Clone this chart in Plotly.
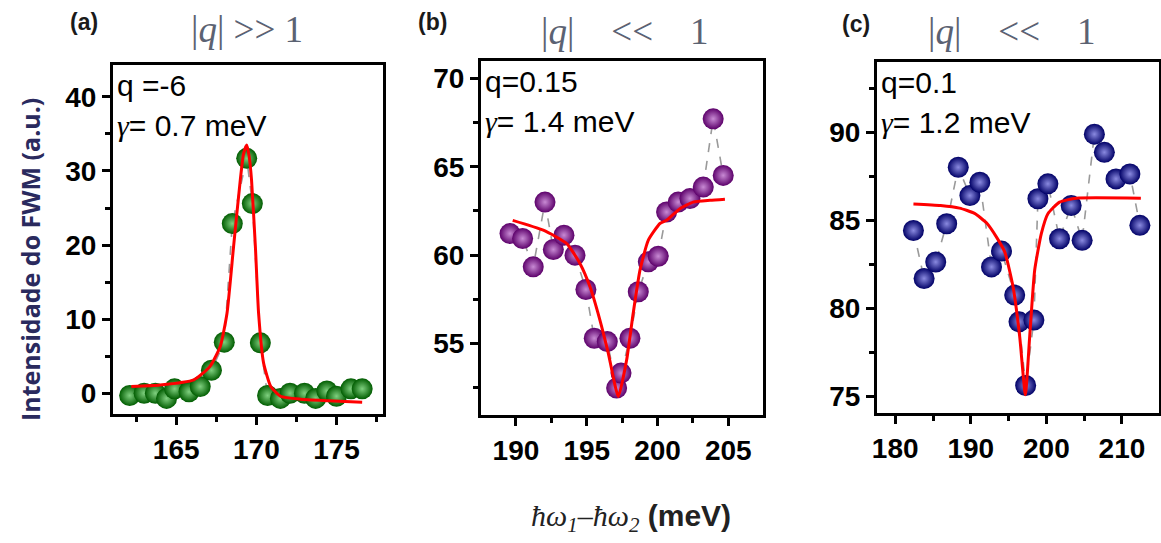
import plotly.graph_objects as go

W, H = 1161, 543

# ---------- data ----------
# panel (a)  |q| >> 1
a_x = [162.1, 163.0, 163.7, 164.4, 164.9, 165.8, 166.5, 167.2, 168.0, 168.5, 169.4,
       169.75, 170.25, 170.7, 171.5, 172.1, 173.0, 173.7, 174.4, 175.0, 175.9, 176.6]
a_y = [-0.3, 0.0, 0.0, -0.7, 0.6, 0.2, 0.9, 3.1, 6.9, 22.9, 31.7,
       25.6, 6.8, -0.3, -0.7, 0.0, 0.0, -0.7, 0.3, -0.4, 0.6, 0.6]
afit_x = [162.2, 164.0, 166.1, 167.1, 167.75, 168.17, 168.58, 169.0, 169.2, 169.4,
          169.55, 169.7, 169.94, 170.14, 170.45, 170.9, 171.5, 172.75, 174.5, 176.6]
afit_y = [0.9, 1.1, 1.8, 3.6, 6.3, 10.8, 19.8, 28.8, 32.3, 33.5,
          32.0, 28.8, 19.8, 10.8, 4.1, 0.9, -0.4, -0.8, -1.0, -1.2]

# panel (b)  |q| << 1
b_x = [189.58, 190.47, 191.22, 192.05, 192.64, 193.39, 194.17, 194.94, 195.53, 196.45, 197.11,
       197.42, 198.05, 198.64, 199.35, 200.05, 200.64, 201.46, 202.29, 203.23, 203.93, 204.64]
b_y = [61.22, 60.94, 59.34, 63.0, 60.32, 61.13, 60.0, 58.06, 55.3, 55.11, 52.48,
       53.33, 55.3, 57.93, 59.62, 59.94, 62.44, 63.0, 63.2, 63.85, 67.71, 64.51]
bfit_x = [189.77, 191.93, 193.58, 194.52, 195.23, 195.93, 196.52, 197.23, 197.82,
          198.28, 198.76, 199.35, 200.17, 200.64, 201.58, 202.52, 203.7, 204.76]
bfit_y = [61.97, 61.41, 60.66, 59.53, 58.21, 56.33, 54.46, 52.0, 54.08,
          56.71, 59.15, 60.85, 61.79, 61.97, 62.63, 63.0, 63.1, 63.16]

# panel (c)  |q| << 1
c_x = [182.41, 183.82, 185.36, 186.81, 188.34, 189.88, 191.2, 192.74, 194.06, 195.81, 196.38, 197.26,
       198.35, 198.88, 200.2, 201.74, 203.28, 204.73, 206.35, 207.67, 209.21, 211.05, 212.37]
c_y = [84.43, 81.7, 82.64, 84.81, 88.02, 86.41, 87.17, 82.36, 83.26, 80.76, 79.24, 75.62,
       79.34, 86.23, 87.08, 83.96, 85.85, 83.87, 89.9, 88.87, 87.36, 87.64, 84.72]
cfit_x = [182.41, 186.0, 188.5, 190.5, 192.1, 193.4, 194.5, 195.59, 196.47, 197.22, 197.79,
          198.45, 199.33, 200.2, 201.74, 203.94, 212.5]
cfit_y = [85.94, 85.85, 85.7, 85.4, 84.85, 84.05, 83.2, 81.23, 78.4, 75.1, 78.4,
          82.17, 84.25, 85.38, 86.04, 86.26, 86.26]

# ---------- styling ----------
def px(x):
    return x / W

def py(y):
    return 1 - y / H

panels = [
    dict(x=a_x, y=a_y, fx=afit_x, fy=afit_y, edge="#005c00", hi="#7fd07f",
         dom_x=[px(113), px(383)], dom_y=[py(414), py(65)],
         xr=[161.06, 177.9], yr=[-2.8, 44.3], xd=5, xt0=165, xm=2.5, yd=10, ym=5,
         q="q =-6", g="0.7"),
    dict(x=b_x, y=b_y, fx=bfit_x, fy=bfit_y, edge="#5c006a", hi="#c88ad4",
         dom_x=[px(481), px(763)], dom_y=[py(415), py(61)],
         xr=[187.53, 207.45], yr=[50.96, 70.98], xd=5, xt0=190, xm=2.5, yd=5, ym=2.5,
         q="q=0.15", g="1.4"),
    dict(x=c_x, y=c_y, fx=cfit_x, fy=cfit_y, edge="#000066", hi="#8a8ae0",
         dom_x=[px(877), px(1159)], dom_y=[py(413), py(62)],
         xr=[177.59, 214.9], yr=[74.06, 94.0], xd=10, xt0=180, xm=5, yd=5, ym=2.5,
         q="q=0.1", g="1.2"),
]

fig = go.Figure()
tickfont = dict(family="Liberation Sans, Arial", size=28, color="black", weight="bold")
annots = []

for i, p in enumerate(panels, start=1):
    xa = "x" if i == 1 else f"x{i}"
    ya = "y" if i == 1 else f"y{i}"
    fig.add_trace(go.Scatter(x=p["x"], y=p["y"], mode="lines", xaxis=xa, yaxis=ya,
                             line=dict(color="#9a9a9a", width=1.6, dash="dash"),
                             showlegend=False, hoverinfo="skip"))
    fig.add_trace(go.Scatter(x=p["x"], y=p["y"], mode="markers", xaxis=xa, yaxis=ya,
                             marker=dict(size=21, color=p["edge"],
                                         gradient=dict(type="radial", color=p["hi"]),
                                         line=dict(width=0)),
                             showlegend=False))
    fig.add_trace(go.Scatter(x=p["fx"], y=p["fy"], mode="lines", xaxis=xa, yaxis=ya,
                             line=dict(color="#ff0000", width=3, shape="spline", smoothing=0.5),
                             showlegend=False))
    axkey = "xaxis" if i == 1 else f"xaxis{i}"
    aykey = "yaxis" if i == 1 else f"yaxis{i}"
    fig.update_layout({
        axkey: dict(domain=p["dom_x"], range=p["xr"], anchor=ya, automargin=False,
                    showline=True, linecolor="black", linewidth=3, mirror=True,
                    showgrid=False, zeroline=False,
                    ticks="outside", ticklen=8, tickwidth=2.5, tickcolor="black",
                    tick0=p["xt0"], dtick=p["xd"], tickfont=tickfont,
                    minor=dict(ticks="outside", ticklen=5, tickwidth=2.5,
                               tickcolor="black", dtick=p["xm"], tick0=p["xt0"], showgrid=False)),
        aykey: dict(domain=p["dom_y"], range=p["yr"], anchor=xa, automargin=False,
                    showline=True, linecolor="black", linewidth=3, mirror=True,
                    showgrid=False, zeroline=False,
                    ticks="outside", ticklen=8, tickwidth=2.5, tickcolor="black",
                    tick0=0, dtick=p["yd"], tickfont=tickfont,
                    minor=dict(ticks="outside", ticklen=5, tickwidth=2.5,
                               tickcolor="black", dtick=p["ym"], tick0=0, showgrid=False)),
    })
    x0 = p["dom_x"][0]
    top = p["dom_y"][1]
    annots.append(dict(x=x0 + px(2), y=top - 0.004, xref="paper", yref="paper",
                       xanchor="left", yanchor="top", showarrow=False, text=p["q"],
                       font=dict(family="Liberation Sans, Arial", size=30, color="black")))
    annots.append(dict(x=x0 + px(2), y=top - 0.078, xref="paper", yref="paper",
                       xanchor="left", yanchor="top", showarrow=False,
                       text="<i style='font-family:Liberation Serif'>γ</i>= " + p["g"] + " meV",
                       font=dict(family="Liberation Sans, Arial", size=30, color="black")))

serif_q = "|<i>q</i>|"
titles = [
    ("(a)", 84, 22, serif_q + " &gt;&gt; 1", 247, 30),
    ("(b)", 432, 22, serif_q + " &nbsp;&nbsp;&nbsp;&lt;&lt; &nbsp;&nbsp;&nbsp;1", 625, 32),
    ("(c)", 856, 24, serif_q + " &nbsp;&nbsp;&nbsp;&lt;&lt; &nbsp;&nbsp;&nbsp;1", 1012, 32),
]
for lab, lx, ly, t, tx, ty in titles:
    annots.append(dict(x=px(lx), y=py(ly), xref="paper", yref="paper", showarrow=False,
                       xanchor="center", yanchor="middle",
                       text="<b>" + lab + "</b>",
                       font=dict(family="Liberation Sans, Arial", size=23, color="#1a1a1a")))
    annots.append(dict(x=px(tx), y=py(ty), xref="paper", yref="paper", showarrow=False,
                       xanchor="center", yanchor="middle",
                       text=t, font=dict(family="Liberation Serif, Times New Roman", size=37,
                                         color="#5b6272")))

annots.append(dict(x=px(30), y=py(260), xref="paper", yref="paper", showarrow=False,
                   xanchor="center", yanchor="middle",
                   textangle=-90, text="<b>Intensidade do FWM (a.u.)</b>",
                   font=dict(family="Open Sans, Lato", size=25, color="#2a2a5e")))
annots.append(dict(x=px(631), y=py(518), xref="paper", yref="paper", showarrow=False,
                   xanchor="center", yanchor="middle",
                   text="<i style='font-family:Liberation Serif'>ħω<sub>1</sub>–ħω<sub>2</sub></i>"
                        " <b>(meV)</b>",
                   font=dict(family="Liberation Sans, Arial", size=30, color="#222222")))

fig.update_layout(template="none", width=W, height=H, margin=dict(l=0, r=0, t=0, b=0),
                  paper_bgcolor="white", plot_bgcolor="white",
                  showlegend=False, annotations=annots)

fig.write_html("out.html", config={"displayModeBar": False},
               post_script="document.body.style.margin='0px';")
